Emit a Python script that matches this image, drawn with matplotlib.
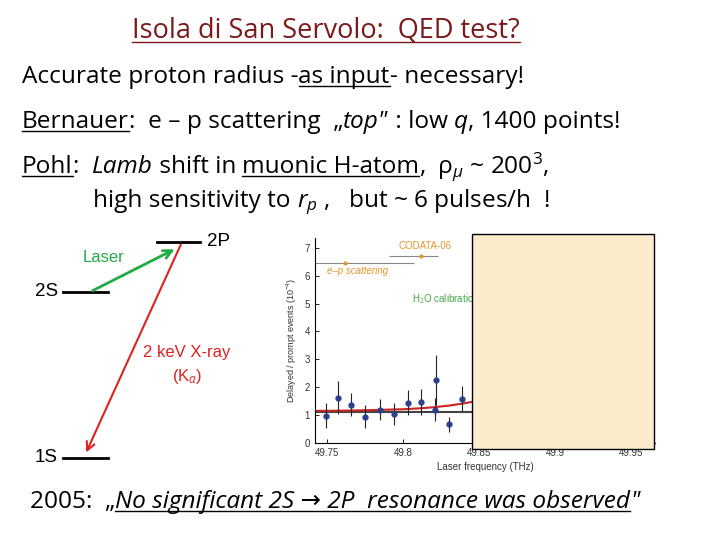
import matplotlib
matplotlib.use('Agg')
import matplotlib.pyplot as plt

plt.rcParams['font.family'] = ['Open Sans', 'DejaVu Sans']
plt.rcParams['mathtext.fontset'] = 'custom'
plt.rcParams['mathtext.rm'] = 'Open Sans'
plt.rcParams['mathtext.it'] = 'Open Sans:italic'

# resonance scan data
freq = [49.749, 49.757, 49.766, 49.775, 49.785, 49.794, 49.803, 49.812, 49.821, 49.822, 49.830, 49.839]
ratio = [0.97, 1.63, 1.38, 0.95, 1.20, 1.05, 1.45, 1.47, 1.20, 2.25, 0.68, 1.58]
err = [0.45, 0.60, 0.40, 0.40, 0.37, 0.40, 0.45, 0.45, 0.42, 0.90, 0.27, 0.45]
fit_x = [49.742, 49.76, 49.78, 49.80, 49.81, 49.82, 49.83, 49.84, 49.848]
fit_y = [1.15, 1.16, 1.18, 1.21, 1.24, 1.28, 1.34, 1.42, 1.50]
xticks = [49.75, 49.8, 49.85, 49.9, 49.95]

W, H = 720, 540
fig = plt.figure(figsize=(7.2, 5.4), dpi=100)
bg = fig.add_axes([0, 0, 1, 1])
bg.set_xlim(0, W)
bg.set_ylim(H, 0)
bg.axis('off')
fig.canvas.draw()
r = fig.canvas.get_renderer()

SZ = 17.6


def line_of(pieces, x, y, size=SZ, color='black'):
    # pieces: (text, italic, underline)
    for txt, ital, ul in pieces:
        t = bg.text(x, y, txt, fontsize=size, color=color, va='baseline', ha='left',
                    style='italic' if ital else 'normal')
        w = t.get_window_extent(r).width
        if ul:
            bg.plot([x, x + w], [y + 3, y + 3], color=color, lw=1)
        x += w
    return x


# title
t = bg.text(326, 38, 'Isola di San Servolo:  QED test?', fontsize=19.5, color='#7a1a1a',
            ha='center', va='baseline')
bw = t.get_window_extent(r).width
bg.plot([326 - bw / 2, 326 + bw / 2], [42, 42], color='#7a1a1a', lw=1)

line_of([('Accurate proton radius -', False, False), ('as input', False, True),
         ('- necessary!', False, False)], 22, 83)
line_of([('Bernauer', False, True), (':  e – p scattering  „', False, False), ('top"', True, False),
         (' : low ', False, False), ('q', True, False), (', 1400 points!', False, False)], 22, 128)
line_of([('Pohl', False, True), (':  ', False, False), ('Lamb', True, False), (' shift in ', False, False),
         ('muonic H-atom', False, True), (',  ρ$_\\mu$ ~ 200$^3$,', False, False)], 22, 173)
line_of([('high sensitivity to ', False, False), ('r', True, False), ('$_p$ ,   but ~ 6 pulses/h  !', False, False)], 93, 207)
line_of([('2005:  „', False, False), ('No significant 2S → 2P  resonance was observed', True, True),
         ('"', True, False)], 30, 508)

# level diagram
for x0, x1, yy, lab, lx, ha in [(157, 200, 242, '2P', 207, 'left'), (63, 108, 292, '2S', 58, 'right'),
                                 (63, 108, 458, '1S', 58, 'right')]:
    bg.plot([x0, x1], [yy, yy], color='black', lw=2)
    bg.text(lx, yy, lab, fontsize=13.5, ha=ha, va='center', family='Liberation Sans')
bg.annotate('', xy=(177, 248), xytext=(90, 292),
            arrowprops=dict(arrowstyle='->', color='#22aa44', lw=2, mutation_scale=15))
bg.annotate('', xy=(85, 455), xytext=(182, 242),
            arrowprops=dict(arrowstyle='->', color='#dd2222', lw=1.5, mutation_scale=15))
bg.text(103, 257, 'Laser', fontsize=12, color='#22aa44', ha='center', va='center', family='Liberation Sans')
bg.text(187, 353, '2 keV X-ray', fontsize=12, color='#dd2222', ha='center', va='center', family='Liberation Sans')
bg.text(187, 377, '(K$_\\alpha$)', fontsize=12, color='#dd2222', ha='center', va='center', family='Liberation Sans')

# data panel
ax = fig.add_axes([315 / W, 1 - 443 / H, 340 / W, 205 / H])
ax.set_xlim(49.742, 49.966)
ax.set_ylim(0, 7.35)
ax.axhline(1.12, color='#444444', lw=1.5)
ax.plot(fit_x, fit_y, color='#cc2222', lw=1.5)
ax.errorbar(freq, ratio, yerr=err, fmt='o', color='#2b3f8c', ecolor='#222222', ms=3.5, elinewidth=0.8)
ax.errorbar([49.762], [6.45], xerr=[[0.02], [0.045]], fmt='o', color='#e8962a', ecolor='#888888', ms=2, elinewidth=0.8)
ax.errorbar([49.812], [6.7], xerr=[[0.021], [0.011]], fmt='o', color='#e8962a', ecolor='#888888', ms=2, elinewidth=0.8)
ax.text(49.797, 6.95, 'CODATA-06', color='#e8962a', fontsize=7, family='Liberation Sans')
ax.text(49.750, 6.05, 'e–p scattering', color='#e8962a', fontsize=7, family='Liberation Sans', style='italic')
ax.text(49.806, 5.05, 'H$_2$O calibration', color='#44aa44', fontsize=7, family='Liberation Sans')
ax.set_xticks(xticks)
ax.set_xticklabels(['49.75', '49.8', '49.85', '49.9', '49.95'], fontsize=7, color='#333333', family='Liberation Sans')
ax.set_yticks(range(8))
ax.set_yticklabels([str(i) for i in range(8)], fontsize=7, color='#333333', family='Liberation Sans')
ax.set_xlabel('Laser frequency (THz)', fontsize=7, color='#333333', family='Liberation Sans', labelpad=3)
ax.set_ylabel('Delayed / prompt events (10$^{-4}$)', fontsize=6.5, color='#333333', family='Liberation Sans')
ax.tick_params(direction='in', length=3, width=0.6)
for s in ['top', 'right']:
    ax.spines[s].set_visible(False)

# pasted box hiding the rest of the scan (own axes on top)
top = fig.add_axes([0, 0, 1, 1], facecolor='none')
top.set_xlim(0, W)
top.set_ylim(H, 0)
top.axis('off')
top.add_patch(plt.Rectangle((472, 234), 182, 215, facecolor='#fbebcb', edgecolor='black', lw=1))

fig.savefig('out.png', dpi=100)
